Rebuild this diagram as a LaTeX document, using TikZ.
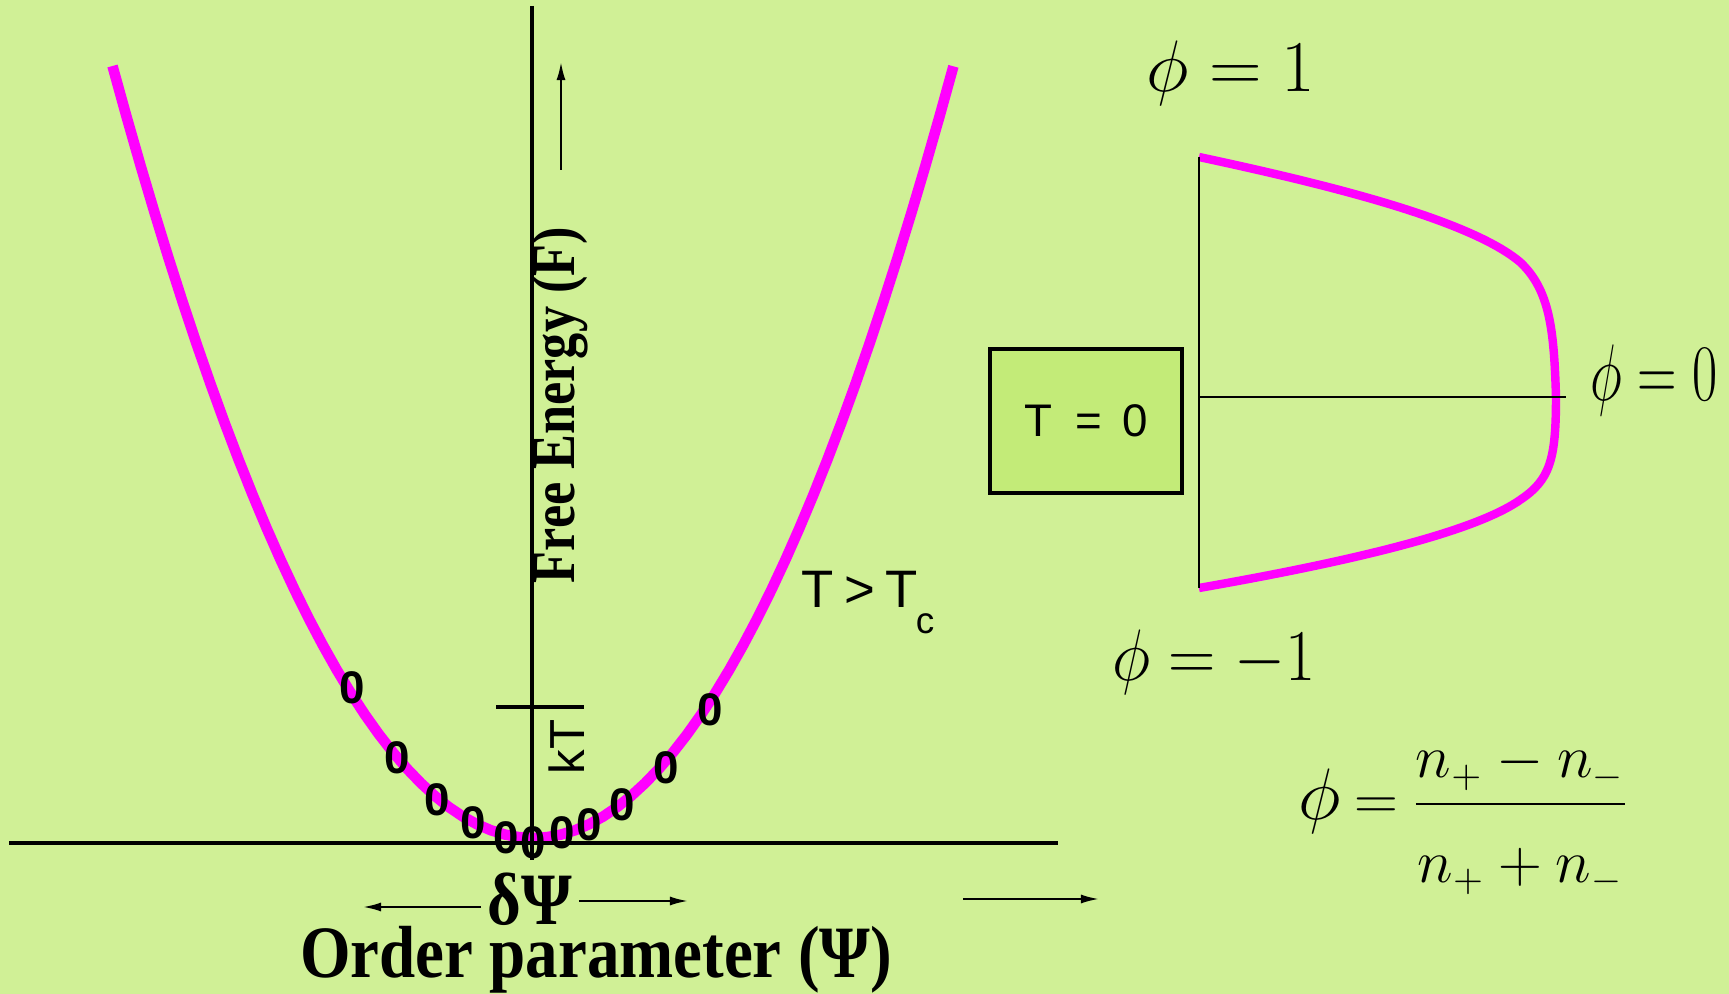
\documentclass[tikz,border=0pt]{standalone}
\usepackage{fontspec}
\usepackage{amsmath}
\usepackage{tikz}
\usetikzlibrary{arrows.meta,calc}
\setmainfont{Liberation Serif}
\setsansfont{Liberation Sans}
\definecolor{bggreen}{RGB}{208,240,150}
\definecolor{boxgreen}{RGB}{195,235,120}
\definecolor{curvepink}{RGB}{255,0,255}
\newcommand{\axislabel}[3]{\scalebox{#2}[1]{\fontsize{#1}{#1}\selectfont\bfseries #3}}

\begin{document}
\begin{tikzpicture}[x=0.01cm,y=-0.01cm,
  axis/.style={line width=1pt},
  thinline/.style={line width=0.75pt},
  arr/.style={-{Latex[length=1.8mm,width=0.9mm]},line width=0.6pt},
  energy/.style={curvepink,line width=3pt},
  zero/.style={font=\fontsize{13}{13}\selectfont\sffamily\bfseries,inner sep=0pt},
  lbl/.style={inner sep=0pt}
]
\useasboundingbox (0,0) rectangle (1729,994);
\fill[bggreen] (0,0) rectangle (1729,994);
% free energy curve and axes
\draw[energy] plot[domain=-4.205:4.205,samples=61] ({533+100*\x},{838-43.66*\x*\x});
\coordinate (ytop) at (532,6); \coordinate (ybot) at (532,860);
\coordinate (xleft) at (9,843); \coordinate (xright) at (1058,843);
\draw[axis] (xleft)--(xright); \draw[axis] (ytop)--(ybot);
\coordinate (ktl) at (496,707); \coordinate (ktr) at (584,707);
\draw[axis] (ktl)--(ktr);
\foreach \zx/\zy [count=\i] in {352/688,397/758,437/800,473/823,506/838,533/843,562/833,589/825,622/805,666/768,710/710}
  \node[zero] (z\i) at (\zx,\zy) {0};
\node[lbl,rotate=90] (energy) at (560,405) {\axislabel{17.5}{0.85}{Free Energy (F)}};
\coordinate (upbase) at (561,170); \coordinate (uptip) at (561,62);
\draw[arr] (upbase)--(uptip);
\node[lbl,rotate=90,font=\fontsize{14}{14}\selectfont\sffamily] (kt) at (567,747) {kT};
\node[lbl,anchor=base west,font=\fontsize{15}{15}\selectfont\sffamily] (tc) at (801,607) {T\hspace{0.2em}>\hspace{0.2em}T\kern-0.04em\raisebox{-0.5em}{\fontsize{10.5}{10.5}\selectfont c}};
\node[lbl,anchor=base,inner xsep=0.06cm] (dpsi) at (530,924) {\axislabel{21}{0.88}{δΨ}};
\coordinate (dleft) at (363,907); \coordinate (dright) at (688,901);
\draw[arr] (dpsi.west |- dleft)--(dleft);
\draw[arr] (dpsi.east |- dright)--(dright);
\node[lbl,anchor=base] (order) at (596,977) {\axislabel{21}{0.88}{Order parameter (Ψ)}};
\coordinate (fa) at (963,899); \coordinate (fb) at (1099,899);
\draw[arr] (fa)--(fb);
% T = 0 profile
\node[draw,line width=0.9pt,fill=boxgreen,minimum width=1.92cm,minimum height=1.44cm,font=\fontsize{13}{13}\selectfont\sffamily] (tzero) at (1086,421) {T\hspace{.5em}=\hspace{.45em}0};
\coordinate (ptop) at (1199,157); \coordinate (pmid) at (1199,397);
\coordinate (pbot) at (1199,588); \coordinate (ptip) at (1566,397);
\draw[curvepink,line width=2.4pt] (ptop) .. controls (1330,185) and (1470,220) .. (1520,262)
  .. controls (1550,290) and (1554,330) .. (1556,397)
  .. controls (1556,460) and (1550,480) .. (1520,500)
  .. controls (1470,535) and (1330,565) .. (pbot);
\draw[thinline] (ptop)--(pbot); \draw[thinline] (pmid)--(ptip);
\node[lbl,anchor=base west] (phione) at (1146,92) {\fontsize{21}{21}\selectfont$\phi=1$};
\node[lbl,anchor=base west] (phizero) at (1590,400) {\scalebox{0.75}[1.1]{\fontsize{21}{21}\selectfont$\phi=0$}};
\node[lbl,anchor=base west] (phimone) at (1112,680) {\scalebox{0.9}[1]{\fontsize{21}{21}\selectfont$\phi=-1$}};
\node[lbl,anchor=base west] (phidef) at (1298,819) {{\fontsize{22}{22}\selectfont$\phi$}\fontsize{16}{16}\selectfont$\mskip4mu=\mskip-1mu\dfrac{n_{+}-n_{-}}{\rule{0pt}{1.25em}n_{+}+n_{-}}$};
\end{tikzpicture}
\end{document}
